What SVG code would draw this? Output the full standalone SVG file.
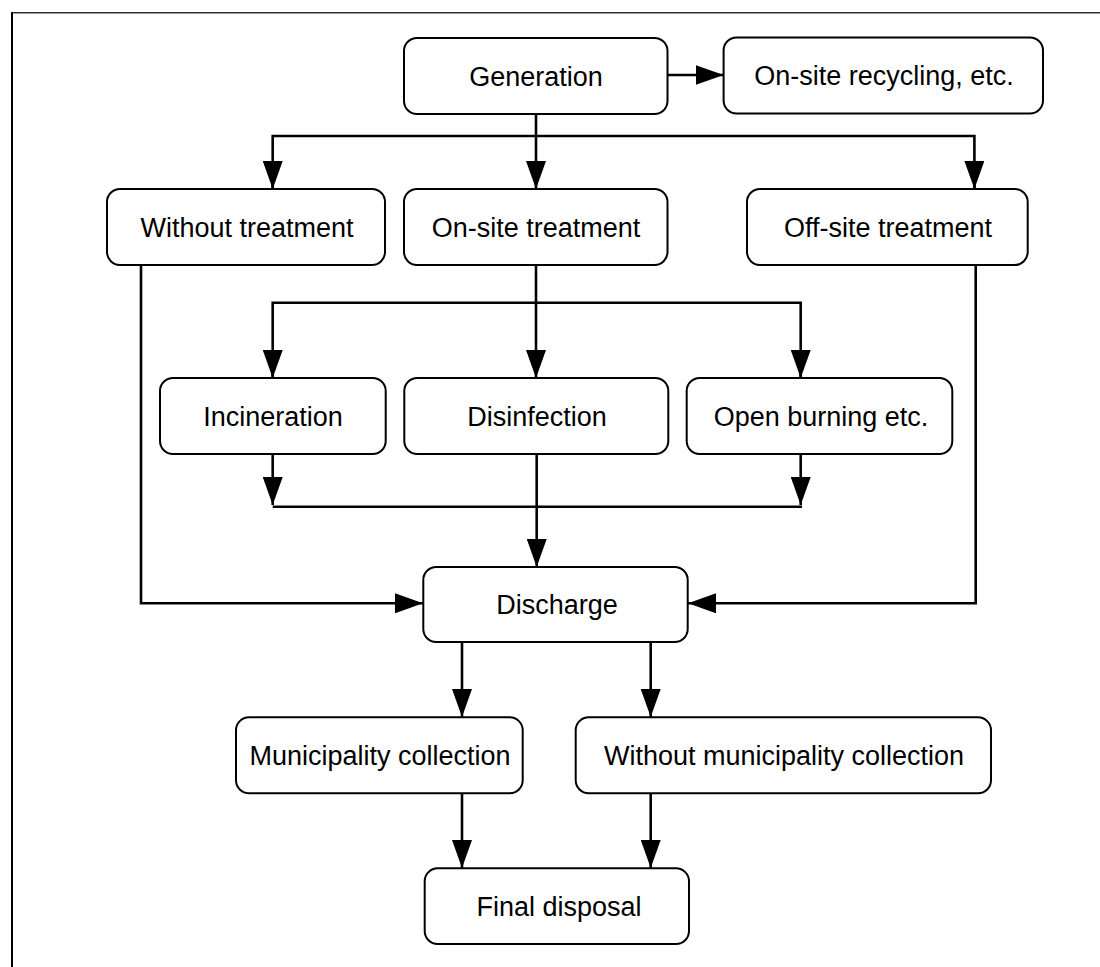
<svg xmlns="http://www.w3.org/2000/svg" width="1100" height="967" viewBox="0 0 1100 967">
<style>
.box{fill:#fff;stroke:#000;stroke-width:2}
.lbl{font-family:"Liberation Sans",Arial,sans-serif;font-size:27px;fill:#000;text-anchor:middle}
.ln{fill:none;stroke:#000;stroke-width:2.6}
</style>
<defs>
<marker id="ah" viewBox="0 0 28 20" refX="28" refY="10" markerWidth="28" markerHeight="20" markerUnits="userSpaceOnUse" orient="auto">
<path d="M0,0 L28,10 L0,20 Z" fill="#000"/>
</marker>
</defs>
<rect x="0" y="0" width="1100" height="967" fill="#fff"/>
<g id="frame">
<line x1="12" y1="12.7" x2="1100" y2="12.7" stroke="#333" stroke-width="1.6"/>
<line x1="12" y1="12" x2="12" y2="967" stroke="#000" stroke-width="2"/>
</g>
<g id="connectors">
<line class="ln" x1="667.5" y1="75" x2="723.6" y2="75" marker-end="url(#ah)"/>
<line class="ln" x1="536" y1="114" x2="536" y2="189" marker-end="url(#ah)"/>
<polyline class="ln" points="272.7,189 272.7,136 974.4,136 974.4,189" stroke-width="2.4"/>
<line class="ln" x1="272.7" y1="170" x2="272.7" y2="189" marker-end="url(#ah)"/>
<line class="ln" x1="974.4" y1="170" x2="974.4" y2="189" marker-end="url(#ah)"/>
<line class="ln" x1="536" y1="265" x2="536" y2="378" marker-end="url(#ah)"/>
<polyline class="ln" points="272.7,378 272.7,302.7 800.7,302.7 800.7,378" stroke-width="2.4"/>
<line class="ln" x1="272.7" y1="360" x2="272.7" y2="378" marker-end="url(#ah)"/>
<line class="ln" x1="800.7" y1="360" x2="800.7" y2="378" marker-end="url(#ah)"/>
<line class="ln" x1="272.7" y1="454" x2="272.7" y2="505" marker-end="url(#ah)"/>
<line class="ln" x1="800.7" y1="454" x2="800.7" y2="505" marker-end="url(#ah)"/>
<line class="ln" x1="272.7" y1="506.7" x2="802" y2="506.7" stroke-width="2.4"/>
<line class="ln" x1="536.7" y1="454" x2="536.7" y2="567" marker-end="url(#ah)"/>
<polyline class="ln" points="141,265 141,603.3 423,603.3" marker-end="url(#ah)"/>
<polyline class="ln" points="975.7,265 975.7,603.3 688,603.3" marker-end="url(#ah)"/>
<line class="ln" x1="462" y1="642" x2="462" y2="717" marker-end="url(#ah)"/>
<line class="ln" x1="650.7" y1="642" x2="650.7" y2="717" marker-end="url(#ah)"/>
<line class="ln" x1="462" y1="793" x2="462" y2="868" marker-end="url(#ah)"/>
<line class="ln" x1="650.7" y1="793" x2="650.7" y2="868" marker-end="url(#ah)"/>
</g>
<g id="generation"><rect class="box" x="404" y="38" width="263.5" height="76" rx="13"/><text class="lbl" x="536" y="85.5">Generation</text></g>
<g id="recycling"><rect class="box" x="723.6" y="37.5" width="319.4" height="76" rx="13"/><text class="lbl" x="884" y="85">On-site recycling, etc.</text></g>
<g id="without-treatment"><rect class="box" x="107" y="189" width="278" height="76" rx="13"/><text class="lbl" x="247" y="236.5">Without treatment</text></g>
<g id="onsite-treatment"><rect class="box" x="404" y="189" width="263.5" height="76" rx="13"/><text class="lbl" x="536" y="236.5">On-site treatment</text></g>
<g id="offsite-treatment"><rect class="box" x="747" y="189" width="280.7" height="76" rx="13"/><text class="lbl" x="888" y="236.5">Off-site treatment</text></g>
<g id="incineration"><rect class="box" x="160" y="378" width="225.7" height="76" rx="13"/><text class="lbl" x="273" y="425.5">Incineration</text></g>
<g id="disinfection"><rect class="box" x="404.3" y="378" width="264" height="76" rx="13"/><text class="lbl" x="537" y="425.5">Disinfection</text></g>
<g id="open-burning"><rect class="box" x="686.7" y="378" width="265.6" height="76" rx="13"/><text class="lbl" x="821" y="425.5">Open burning etc.</text></g>
<g id="discharge"><rect class="box" x="423.3" y="567" width="264.4" height="75" rx="13"/><text class="lbl" x="557" y="614">Discharge</text></g>
<g id="municipality"><rect class="box" x="236" y="717.3" width="286.7" height="76" rx="13"/><text class="lbl" x="380" y="764.5">Municipality collection</text></g>
<g id="without-municipality"><rect class="box" x="575.7" y="717.3" width="415.3" height="76" rx="13"/><text class="lbl" x="784" y="764.5">Without municipality collection</text></g>
<g id="final-disposal"><rect class="box" x="424.7" y="868.3" width="264.3" height="75.7" rx="13"/><text class="lbl" x="559" y="915.5">Final disposal</text></g>
</svg>
